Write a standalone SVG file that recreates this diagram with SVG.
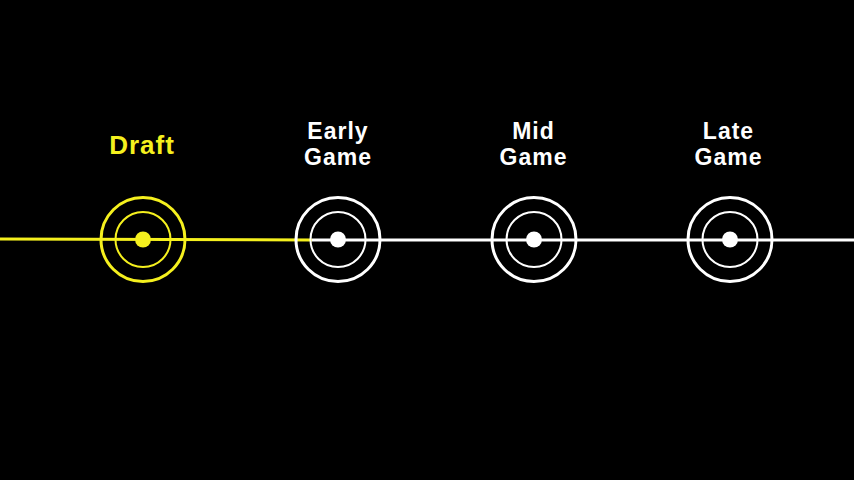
<svg xmlns="http://www.w3.org/2000/svg" width="854" height="480" viewBox="0 0 854 480">
<style>
.lbl{font-family:"Liberation Sans","DejaVu Sans",sans-serif;font-size:23px;font-weight:bold;text-anchor:middle;letter-spacing:1px}
.big{font-size:26px}
.y{fill:#f5f01e}.w{fill:#ffffff}
.outer{fill:none;stroke-width:3}
.inner{fill:none;stroke-width:2}
.sy{stroke:#f5f01e}.sw{stroke:#ffffff}
</style>
<rect width="854" height="480" fill="#000000"/>
<g id="connectors">
<line x1="312" y1="240" x2="854" y2="240" stroke="#ffffff" stroke-width="3"/>
<line x1="0" y1="239" x2="312" y2="240" stroke="#f5f01e" stroke-width="3"/>
</g>
<g id="draft">
<circle class="outer sy" cx="143" cy="239.5" r="42"/>
<circle class="inner sy" cx="143" cy="239.5" r="27.5"/>
<circle class="y" cx="143" cy="239.5" r="8"/>
<text class="lbl big y" x="142" y="154">Draft</text>
</g>
<g id="early-game">
<circle class="outer sw" cx="338" cy="239.5" r="42"/>
<circle class="inner sw" cx="338" cy="239.5" r="27.5"/>
<circle class="w" cx="338" cy="239.5" r="8"/>
<text class="lbl w" x="338" y="139">Early</text>
<text class="lbl w" x="338" y="165">Game</text>
</g>
<g id="mid-game">
<circle class="outer sw" cx="534" cy="239.5" r="42"/>
<circle class="inner sw" cx="534" cy="239.5" r="27.5"/>
<circle class="w" cx="534" cy="239.5" r="8"/>
<text class="lbl w" x="533.5" y="139">Mid</text>
<text class="lbl w" x="533.5" y="165">Game</text>
</g>
<g id="late-game">
<circle class="outer sw" cx="730" cy="239.5" r="42"/>
<circle class="inner sw" cx="730" cy="239.5" r="27.5"/>
<circle class="w" cx="730" cy="239.5" r="8"/>
<text class="lbl w" x="728.5" y="139">Late</text>
<text class="lbl w" x="728.5" y="165">Game</text>
</g>
</svg>
